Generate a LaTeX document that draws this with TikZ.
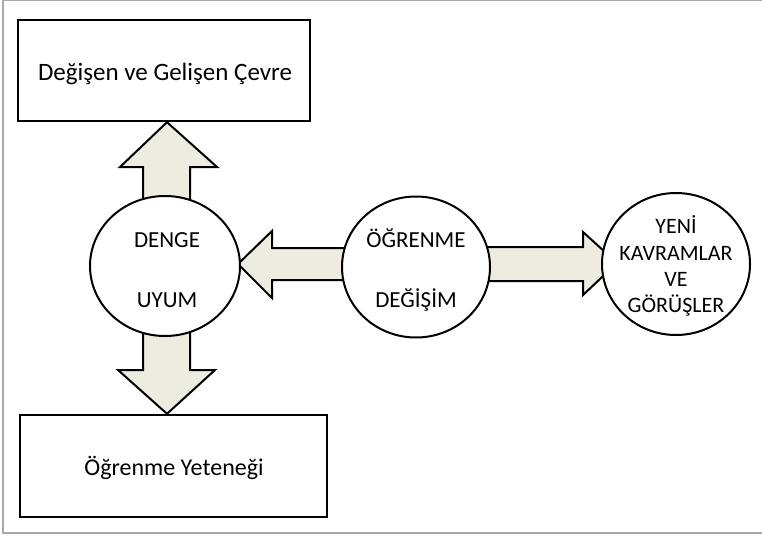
\documentclass[tikz,border=0pt]{standalone}
\usepackage{fontspec}
\setmainfont{Carlito}
\usetikzlibrary{shapes.geometric,calc}
\definecolor{arrowfill}{HTML}{EEECE1}
\definecolor{framegray}{HTML}{A8A8A8}
\begin{document}
\begin{tikzpicture}[x=1pt,y=-1pt,
  every node/.style={font=\fontsize{23}{28}\selectfont},
  box/.style={draw,line width=2.4pt,inner sep=0pt},
  bubble/.style={draw,ellipse,line width=2pt,fill=white,inner sep=0pt},
  label text/.style={anchor=base,inner sep=0pt},
  blockarrow/.style={draw,line width=2pt,fill=arrowfill,line join=miter}]
\useasboundingbox (0,0) rectangle (762,535);
\draw[framegray,line width=1.2pt] (762,0.6) -- (3,0.6) -- (3,533) -- (762,533);

% boxes
\node[box,minimum width=292pt,minimum height=101pt] (env) at (164,70.5) {};
\node[box,minimum width=307pt,minimum height=102pt] (ability) at (173.5,466) {};
\node[label text,font=\fontsize{25}{30}\selectfont] (envtext) at (165,80) {Değişen ve Gelişen Çevre};
\node[label text,font=\fontsize{24}{29}\selectfont] (abilitytext) at (174,475) {Öğrenme Yeteneği};

% circle positions
\coordinate (dc) at (165,266);
\coordinate (oc) at (416,267);
\coordinate (yc) at (676,264);

% block arrows (drawn below the circles)
\draw[blockarrow] (143,266) -- (143,167) -- (120,167) -- (167,0 |- env.south) -- (217,167) -- (190,167) -- (190,266) -- cycle;
\draw[blockarrow] (143,266) -- (143,370) -- (118,370) -- (167,0 |- ability.north) -- (215,370) -- (190,370) -- (190,266) -- cycle;
\draw[blockarrow] (oc |- 0,248) -- (272,248) -- (272,231) -- (238,264) -- (272,298) -- (272,280) -- (oc |- 0,280) -- cycle;
\draw[blockarrow] (oc |- 0,247) -- (583,247) -- (583,232) -- (617,263) -- (583,295) -- (583,281) -- (oc |- 0,281) -- cycle;

% circles
\node[bubble,minimum width=150pt,minimum height=140pt] (denge) at (dc) {};
\node[bubble,minimum width=148pt,minimum height=141pt] (ogrenme) at (oc) {};
\node[bubble,minimum width=148pt,minimum height=142pt] (yeni) at (yc) {};

\node[label text] (t1) at (167,247) {DENGE};
\node[label text] (t2) at (167,307) {UYUM};
\node[label text] (t3) at (416,247) {ÖĞRENME};
\node[label text] (t4) at (416,307) {DEĞİŞİM};
\begin{scope}[every node/.append style={font=\fontsize{22}{26}\selectfont}]
\node[label text] (t5) at (676,233) {YENİ};
\node[label text] (t6) at (676,260) {KAVRAMLAR};
\node[label text] (t7) at (676,286) {VE};
\node[label text] (t8) at (676,312) {GÖRÜŞLER};
\end{scope}
\end{tikzpicture}
\end{document}
